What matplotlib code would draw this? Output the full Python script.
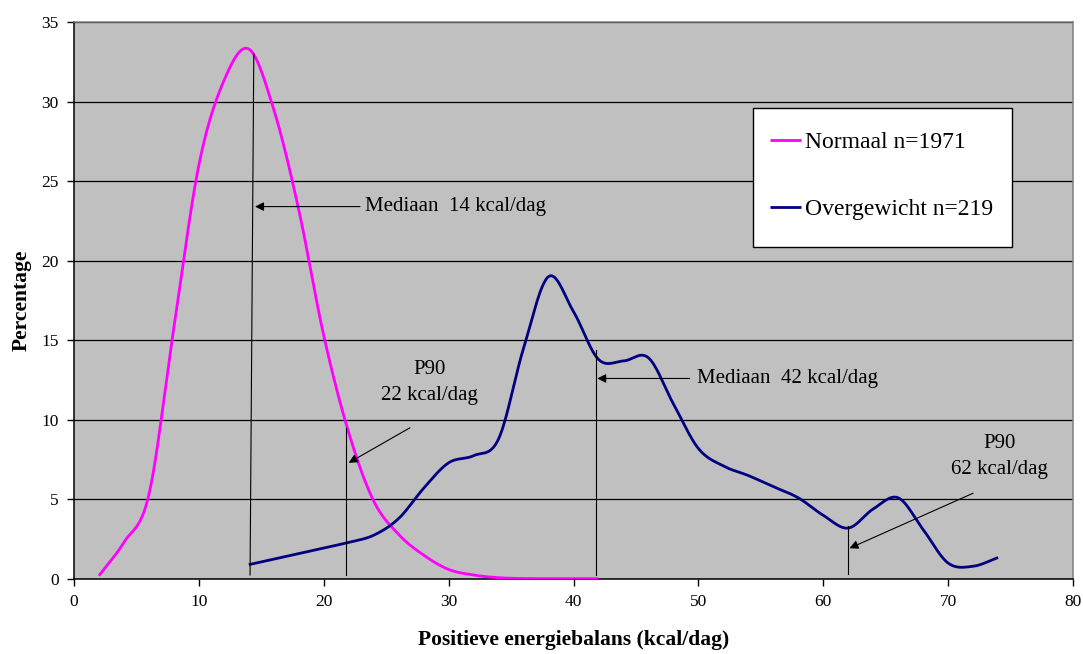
import numpy as np
import matplotlib
matplotlib.use("Agg")
import matplotlib.pyplot as plt
from matplotlib.patches import Rectangle

plt.rcParams['font.family'] = ['Liberation Serif', 'DejaVu Serif']

# Normaal n=1971
x_norm = [2, 4, 6, 8, 10, 12, 14, 16, 18, 20, 22, 24, 26, 28, 30, 32, 34, 36, 38, 40, 42]
y_norm = [0.2, 2.3, 5.3, 15.8, 26.0, 31.3, 33.3, 29.5, 23.2, 15.3, 9.2, 4.9, 2.8, 1.5,
          0.6, 0.25, 0.08, 0.03, 0.02, 0.02, 0.02]

# Overgewicht n=219
x_over = [14, 16, 18, 20, 22, 24, 26, 28, 30, 32, 34, 36, 38, 40, 42, 44, 46, 48, 50,
          52, 54, 56, 58, 60, 62, 64, 66, 68, 70, 72, 74]
y_over = [0.9, 1.25, 1.6, 1.95, 2.3, 2.75, 3.8, 5.7, 7.3, 7.75, 8.8, 14.5, 19.0, 16.8,
          13.8, 13.7, 13.9, 11.0, 8.2, 7.1, 6.5, 5.8, 5.1, 4.0, 3.2, 4.4, 5.1, 3.1,
          1.0, 0.8, 1.35]

labels = ['Normaal n=1971', 'Overgewicht n=219']
xticks = list(range(0, 81, 10))
yticks = list(range(0, 36, 5))


def smooth(xs, ys, n=30):
    # Catmull-Rom, like Excel's smoothed line
    x = np.asarray(xs, float)
    y = np.asarray(ys, float)
    px = np.concatenate([[2 * x[0] - x[1]], x, [2 * x[-1] - x[-2]]])
    py = np.concatenate([[2 * y[0] - y[1]], y, [2 * y[-1] - y[-2]]])
    ox, oy = [], []
    t = np.linspace(0, 1, n, endpoint=False)
    for i in range(1, len(px) - 2):
        for arr, out in ((px, ox), (py, oy)):
            p0, p1, p2, p3 = arr[i - 1], arr[i], arr[i + 1], arr[i + 2]
            out.extend(0.5 * (2 * p1 + (-p0 + p2) * t
                              + (2 * p0 - 5 * p1 + 4 * p2 - p3) * t ** 2
                              + (-p0 + 3 * p1 - 3 * p2 + p3) * t ** 3))
    ox.append(x[-1])
    oy.append(y[-1])
    return np.array(ox), np.array(oy)


fig = plt.figure(figsize=(10.83, 6.54), dpi=100)
ax = fig.add_axes([0.0683, 0.1147, 0.9225, 0.8517])
ax.set_facecolor('#C0C0C0')

ax.set_xlim(0, 80)
ax.set_ylim(0, 35)
ax.set_xticks(xticks)
ax.set_yticks(yticks)
ax.tick_params(direction='out', length=5, width=1, labelsize=12.5, colors='black', pad=6)
ax.yaxis.grid(True, color='black', lw=0.9)
ax.set_axisbelow(True)
for s in ['left', 'bottom']:
    ax.spines[s].set_color('black')
    ax.spines[s].set_linewidth(1.1)
for s in ['top', 'right']:
    ax.spines[s].set_color('#7f7f7f')
    ax.spines[s].set_linewidth(1.1)

sx, sy = smooth(x_norm, y_norm)
l1, = ax.plot(sx, sy, color='#FF00FF', lw=2.0, solid_capstyle='butt', zorder=3)
sx, sy = smooth(x_over, y_over)
l2, = ax.plot(sx, sy, color='#000080', lw=2.0, solid_capstyle='butt', zorder=3)

# annotation lines
line_kw = dict(color='black', lw=0.8, zorder=4)
ax.plot([14.1, 14.4], [0.25, 33.0], **line_kw)
ax.plot([21.8, 21.8], [0.25, 9.5], **line_kw)
ax.plot([41.8, 41.8], [0.25, 14.4], **line_kw)
ax.plot([62.0, 62.0], [0.3, 3.35], **line_kw)

arrow = dict(arrowstyle='-|>', color='black', lw=0.8, mutation_scale=13,
             shrinkA=0, shrinkB=0)
ax.annotate('', xy=(14.5, 23.4), xytext=(22.9, 23.4), arrowprops=arrow, zorder=5)
ax.annotate('', xy=(22.0, 7.3), xytext=(26.9, 9.5), arrowprops=arrow, zorder=5)
ax.annotate('', xy=(41.9, 12.6), xytext=(49.3, 12.6), arrowprops=arrow, zorder=5)
ax.annotate('', xy=(62.1, 1.93), xytext=(72.0, 5.39), arrowprops=arrow, zorder=5)

fs = 15
ax.text(23.3, 23.4, 'Mediaan  14 kcal/dag', fontsize=fs, va='center', ha='left')
ax.text(49.9, 12.6, 'Mediaan  42 kcal/dag', fontsize=fs, va='center', ha='left')
ax.text(28.5, 12.35, 'P90\n22 kcal/dag', fontsize=fs, va='center', ha='center',
        linespacing=1.45)
ax.text(74.1, 7.7, 'P90\n62 kcal/dag', fontsize=fs, va='center', ha='center',
        linespacing=1.45)

# legend box
ax.add_patch(Rectangle((0.680, 0.596), 0.2593, 0.250, transform=ax.transAxes,
                       facecolor='white', edgecolor='black', lw=1.0, zorder=6))
leg = ax.legend([l1, l2], labels, loc='upper left', bbox_to_anchor=(0.6967, 0.803),
                fontsize=17, frameon=False, handlelength=1.3, handletextpad=0.2,
                labelspacing=1.92, borderpad=0, borderaxespad=0)
leg.set_zorder(7)

ax.set_xlabel('Positieve energiebalans (kcal/dag)', fontsize=15.5, fontweight='bold',
              labelpad=14)
ax.set_ylabel('Percentage', fontsize=15.5, fontweight='bold', labelpad=7)

fig.savefig('out.png', dpi=100)
